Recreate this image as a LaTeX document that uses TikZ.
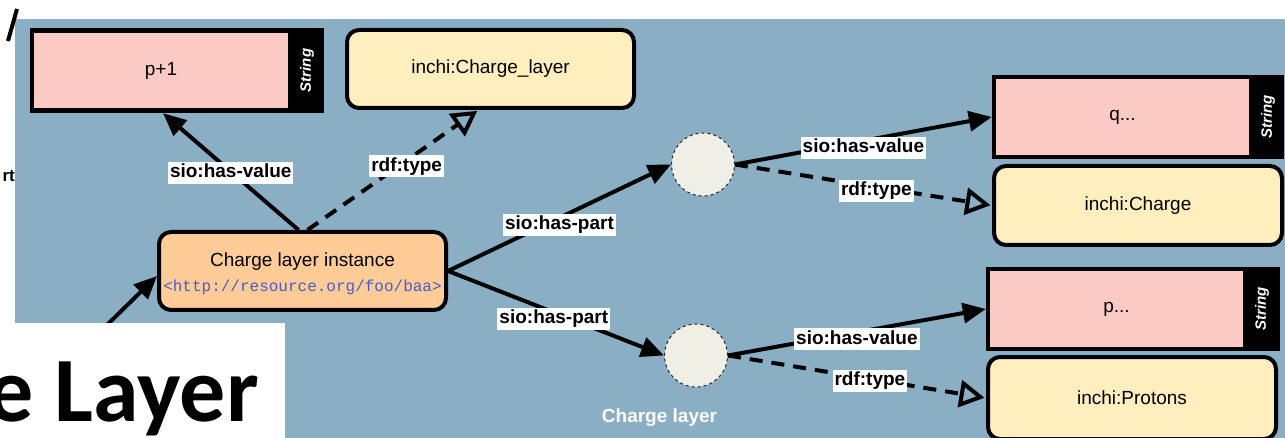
\documentclass[tikz,border=0pt]{standalone}
\usepackage{fontspec}
\setmainfont{Liberation Sans}
\newfontfamily\urlfont{Liberation Mono}
\newfontfamily\slidefont{Carlito}
\usetikzlibrary{arrows.meta}

\definecolor{panelblue}{RGB}{138,175,197}
\definecolor{litpink}{RGB}{251,202,197}
\definecolor{clsyellow}{RGB}{255,238,190}
\definecolor{instorange}{RGB}{255,203,150}
\definecolor{bnodegray}{RGB}{239,239,230}
\definecolor{urlblue}{RGB}{72,92,204}

\tikzset{
  boxfont/.style={font=\fontsize{19}{23}\selectfont},
  clsbox/.style={draw=black, line width=4pt, rounded corners=12pt, fill=clsyellow,
    inner sep=0pt, boxfont},
  instbox/.style={clsbox, fill=instorange},
  litouter/.style={fill=black, inner sep=0pt},
  litinner/.style={fill=litpink, inner sep=0pt, boxfont},
  strtag/.style={rotate=90, text=white, inner sep=0pt,
    font=\bfseries\itshape\fontsize{15}{18}\selectfont},
  bnode/.style={circle, draw=black!85, dashed, line width=1pt, fill=bnodegray,
    minimum size=63pt, inner sep=0pt},
  rel/.style={line width=4pt, arrows={-Triangle[length=23pt,width=20pt]}},
  typ/.style={line width=4pt, dash pattern=on 13pt off 9pt,
    arrows={-Triangle[open,length=25pt,width=27pt,line width=4pt]}},
  lbl/.style={fill=white, inner sep=2pt, text height=14pt, text depth=4pt,
    font=\bfseries\fontsize{19}{23}\selectfont},
}

\begin{document}
\begin{tikzpicture}[x=1pt,y=-1pt]
\useasboundingbox (0,0) rectangle (1285,438);

% slide background: blue diagram panel
\fill[panelblue] (15,19) rectangle (1285,438);

% fragments of the slide text behind the panel
\draw[line width=4pt] (17,9) -- (8,41);
\node[anchor=base east, inner sep=0pt, font=\bfseries\fontsize{17}{20}\selectfont] (frag) at (15,182) {rt};

% literal: p+1
\node[litouter, minimum width=294pt, minimum height=85pt] (p1) at (177,70.5) {};
\node[litinner, minimum width=254pt, minimum height=75pt] (p1v) at (161,70.5) {p+1};
\node[strtag] (p1t) at (307,70.5) {String};

% class: inchi:Charge_layer
\node[clsbox, minimum width=287pt, minimum height=78pt] (cl) at (490.5,69) {inchi:Charge\_layer};

% instance
\node[instbox, minimum width=287pt, minimum height=78pt] (ci) at (302.5,271) {};
\node[boxfont, inner sep=0pt] (cititle) at (302.5,262) {Charge layer instance};
\node[inner sep=0pt, text=urlblue, font=\urlfont\fontsize{16}{18}\selectfont] (ciuri) at (302.5,287) {<http://resource.org/foo/baa>};

% blank nodes
\node[bnode] (c1) at (703,164.5) {};
\node[bnode] (c2) at (696,355.5) {};

% literal: q...
\node[litouter, minimum width=292pt, minimum height=84pt] (q) at (1138,117) {};
\node[litinner, minimum width=253pt, minimum height=76pt] (qv) at (1122.5,117.5) {q...};
\node[strtag] (qt) at (1268,117) {String};

% class: inchi:Charge
\node[clsbox, minimum width=288pt, minimum height=79pt] (ch) at (1138,205.5) {inchi:Charge};

% literal: p...
\node[litouter, minimum width=294pt, minimum height=84pt] (pb) at (1133,309) {};
\node[litinner, minimum width=253pt, minimum height=76pt] (pbv) at (1116.5,309) {p...};
\node[strtag] (pbt) at (1262,309) {String};

% class: inchi:Protons
\node[clsbox, minimum width=288pt, minimum height=82pt] (pr) at (1132,398) {inchi:Protons};

% connectors
\draw[rel] ([xshift=-4pt]ci.north) -- ([xshift=-14pt]p1.south)
  node[lbl, pos=.5, yshift=-1pt] {sio:has-value};
\draw[typ, shorten >=1.5pt] ([xshift=5pt]ci.north) -- ([xshift=-12pt]cl.south)
  node[lbl, pos=.58, yshift=-6pt] {rdf:type};
\draw[rel] (ci.east) -- (c1.west)
  node[lbl, pos=.5, yshift=-7pt] {sio:has-part};
\draw[rel] (ci.east) -- (c2.west)
  node[lbl, pos=.49, yshift=-6.5pt] {sio:has-part};
\draw[rel] (c1.east) -- (q.west)
  node[lbl, pos=.5, yshift=-7pt] {sio:has-value};
\draw[typ, shorten >=1.5pt] (c1.east) -- (ch.west)
  node[lbl, pos=.55, yshift=-3.5pt] {rdf:type};
\draw[rel] (c2.east) -- (pb.west)
  node[lbl, pos=.5, yshift=-7pt] {sio:has-value};
\draw[typ, shorten >=1.5pt] (c2.east) -- (pr.west)
  node[lbl, pos=.55, yshift=-2pt] {rdf:type};

% incoming edge from the rest of the graph
\coordinate (src) at (63,368);
\draw[rel] (src) -- ([yshift=-5pt]ci.west);

% panel caption
\begin{scope}
  \clip (15,19) rectangle (1285,425);
  \node[anchor=base, inner sep=0pt, text=white, font=\bfseries\fontsize{19}{23}\selectfont]
    (layername) at (659.5,422) {Charge layer};
\end{scope}

% slide title box
\fill[white] (0,323) rectangle (285,438);
\begin{scope}
  \clip (0,323) rectangle (285,438);
  \node[anchor=base east, inner sep=0pt, font=\slidefont\bfseries\fontsize{92}{100}\selectfont]
    (slidetitle) at (259,421) {e Layer};
\end{scope}
\end{tikzpicture}
\end{document}
